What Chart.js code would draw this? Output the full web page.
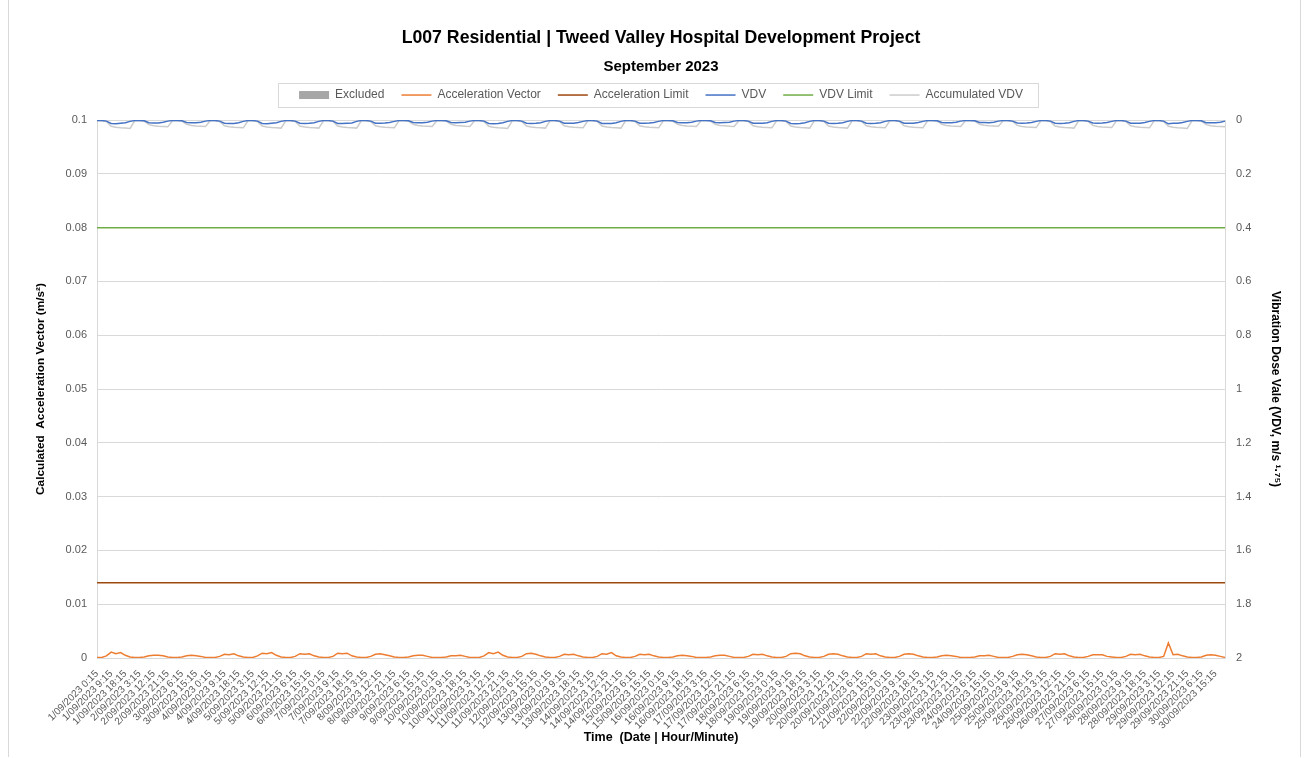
<!DOCTYPE html>
<html>
<head>
<meta charset="utf-8">
<script src="https://cdn.jsdelivr.net/npm/chart.js@4.4.1/dist/chart.umd.min.js"></script>
<style>
    body { margin: 0; background: #fff; }
    #wrap { position: relative; width: 1309px; height: 758px; }
    #frame { position: absolute; left: 8px; top: 0; width: 1291px; height: 757px;
             border-left: 1px solid #d9d9d9; border-right: 1px solid #d9d9d9; pointer-events: none; }
</style>
</head>
<body>
<div id="wrap">
    <canvas id="vibChart" width="1309" height="758"></canvas>
    <div id="frame"></div>
</div>
<script>
// ===== DATA =====
// readings every 3 hours, 1/09/2023 0:15 -> 30/09/2023 21:15
const days = [];
for (let d = 1; d <= 30; d++) days.push(d + '/09/2023');
const times = ['0:15', '3:15', '6:15', '9:15', '12:15', '15:15', '18:15', '21:15'];
const labels = [];
days.forEach(d => times.forEach(t => labels.push(d + ' ' + t)));

// Calculated acceleration vector (m/s2), one row per day
const accelVector = [
    0.0001, 0.0001, 0.0004, 0.0011, 0.0008, 0.0010, 0.0005, 0.0002,
    0.0001, 0.0001, 0.0002, 0.0004, 0.0005, 0.0005, 0.0004, 0.0002,
    0.0001, 0.0001, 0.0002, 0.0004, 0.0005, 0.0004, 0.0003, 0.0001,
    0.0001, 0.0001, 0.0003, 0.0007, 0.0006, 0.0008, 0.0004, 0.0002,
    0.0001, 0.0001, 0.0004, 0.0009, 0.0008, 0.0010, 0.0005, 0.0002,
    0.0001, 0.0001, 0.0003, 0.0008, 0.0007, 0.0008, 0.0004, 0.0002,
    0.0001, 0.0001, 0.0003, 0.0009, 0.0008, 0.0009, 0.0004, 0.0002,
    0.0001, 0.0001, 0.0003, 0.0007, 0.0008, 0.0006, 0.0004, 0.0002,
    0.0001, 0.0001, 0.0002, 0.0004, 0.0005, 0.0005, 0.0003, 0.0001,
    0.0001, 0.0001, 0.0002, 0.0004, 0.0004, 0.0005, 0.0003, 0.0001,
    0.0001, 0.0001, 0.0004, 0.0010, 0.0008, 0.0011, 0.0005, 0.0002,
    0.0001, 0.0001, 0.0003, 0.0008, 0.0009, 0.0007, 0.0004, 0.0002,
    0.0001, 0.0001, 0.0003, 0.0007, 0.0006, 0.0007, 0.0004, 0.0002,
    0.0001, 0.0001, 0.0003, 0.0008, 0.0007, 0.0010, 0.0004, 0.0002,
    0.0001, 0.0001, 0.0003, 0.0007, 0.0006, 0.0007, 0.0004, 0.0002,
    0.0001, 0.0001, 0.0002, 0.0004, 0.0005, 0.0004, 0.0003, 0.0001,
    0.0001, 0.0001, 0.0002, 0.0004, 0.0005, 0.0005, 0.0003, 0.0001,
    0.0001, 0.0001, 0.0003, 0.0007, 0.0006, 0.0007, 0.0004, 0.0002,
    0.0001, 0.0001, 0.0003, 0.0008, 0.0009, 0.0008, 0.0004, 0.0002,
    0.0001, 0.0001, 0.0003, 0.0007, 0.0008, 0.0007, 0.0004, 0.0002,
    0.0001, 0.0001, 0.0003, 0.0008, 0.0007, 0.0008, 0.0004, 0.0002,
    0.0001, 0.0001, 0.0003, 0.0007, 0.0008, 0.0007, 0.0004, 0.0002,
    0.0001, 0.0001, 0.0002, 0.0004, 0.0005, 0.0004, 0.0003, 0.0001,
    0.0001, 0.0001, 0.0002, 0.0004, 0.0004, 0.0005, 0.0003, 0.0001,
    0.0001, 0.0001, 0.0003, 0.0006, 0.0007, 0.0006, 0.0004, 0.0002,
    0.0001, 0.0001, 0.0003, 0.0008, 0.0007, 0.0008, 0.0004, 0.0002,
    0.0001, 0.0001, 0.0003, 0.0006, 0.0006, 0.0006, 0.0003, 0.0002,
    0.0001, 0.0001, 0.0003, 0.0007, 0.0006, 0.0007, 0.0004, 0.0002,
    0.0001, 0.0001, 0.0003, 0.0028, 0.0006, 0.0007, 0.0004, 0.0002,
    0.0001, 0.0001, 0.0002, 0.0005, 0.0006, 0.0005, 0.0003, 0.0001
];

// VDV per period (m/s^1.75), right axis
const vdv = [
    0.002, 0.002, 0.004, 0.013, 0.014, 0.012, 0.010, 0.005,
    0.002, 0.002, 0.003, 0.010, 0.011, 0.011, 0.008, 0.004,
    0.002, 0.002, 0.003, 0.009, 0.010, 0.010, 0.008, 0.004,
    0.002, 0.002, 0.004, 0.012, 0.013, 0.013, 0.010, 0.005,
    0.002, 0.002, 0.004, 0.013, 0.014, 0.012, 0.010, 0.005,
    0.002, 0.002, 0.004, 0.012, 0.013, 0.012, 0.010, 0.005,
    0.002, 0.002, 0.004, 0.013, 0.013, 0.012, 0.011, 0.005,
    0.002, 0.002, 0.004, 0.012, 0.012, 0.011, 0.009, 0.005,
    0.002, 0.002, 0.003, 0.009, 0.010, 0.010, 0.008, 0.004,
    0.002, 0.002, 0.003, 0.009, 0.010, 0.009, 0.008, 0.004,
    0.002, 0.002, 0.004, 0.013, 0.014, 0.013, 0.010, 0.005,
    0.002, 0.002, 0.004, 0.012, 0.013, 0.012, 0.010, 0.005,
    0.002, 0.002, 0.004, 0.012, 0.012, 0.012, 0.009, 0.005,
    0.002, 0.002, 0.004, 0.013, 0.013, 0.013, 0.010, 0.005,
    0.002, 0.002, 0.004, 0.012, 0.012, 0.011, 0.009, 0.005,
    0.002, 0.002, 0.003, 0.009, 0.010, 0.010, 0.008, 0.004,
    0.002, 0.002, 0.003, 0.009, 0.010, 0.009, 0.008, 0.004,
    0.002, 0.002, 0.004, 0.012, 0.012, 0.012, 0.010, 0.005,
    0.002, 0.002, 0.004, 0.013, 0.014, 0.013, 0.010, 0.005,
    0.002, 0.002, 0.004, 0.012, 0.013, 0.012, 0.010, 0.005,
    0.002, 0.002, 0.004, 0.012, 0.013, 0.012, 0.010, 0.005,
    0.002, 0.002, 0.004, 0.012, 0.012, 0.012, 0.009, 0.005,
    0.002, 0.002, 0.003, 0.009, 0.010, 0.010, 0.008, 0.004,
    0.002, 0.002, 0.003, 0.009, 0.009, 0.010, 0.008, 0.004,
    0.002, 0.002, 0.004, 0.011, 0.012, 0.011, 0.009, 0.005,
    0.002, 0.002, 0.004, 0.012, 0.013, 0.012, 0.010, 0.005,
    0.002, 0.002, 0.004, 0.011, 0.012, 0.011, 0.009, 0.005,
    0.002, 0.002, 0.004, 0.012, 0.012, 0.012, 0.009, 0.005,
    0.002, 0.002, 0.004, 0.014, 0.012, 0.012, 0.009, 0.005,
    0.002, 0.002, 0.003, 0.010, 0.010, 0.010, 0.008, 0.004
];

// Accumulated VDV (m/s^1.75), resets every evening
const vdvAccum = [
    0.003, 0.003, 0.005, 0.023, 0.027, 0.029, 0.030, 0.031,
    0.003, 0.003, 0.004, 0.017, 0.021, 0.023, 0.024, 0.025,
    0.003, 0.003, 0.004, 0.016, 0.020, 0.022, 0.023, 0.024,
    0.003, 0.003, 0.005, 0.021, 0.025, 0.027, 0.028, 0.029,
    0.003, 0.003, 0.005, 0.022, 0.026, 0.028, 0.029, 0.030,
    0.003, 0.003, 0.005, 0.022, 0.026, 0.028, 0.029, 0.030,
    0.003, 0.003, 0.005, 0.022, 0.026, 0.028, 0.029, 0.030,
    0.003, 0.003, 0.005, 0.021, 0.025, 0.027, 0.028, 0.029,
    0.003, 0.003, 0.004, 0.016, 0.020, 0.022, 0.023, 0.024,
    0.003, 0.003, 0.004, 0.016, 0.020, 0.021, 0.023, 0.024,
    0.003, 0.003, 0.005, 0.023, 0.027, 0.029, 0.030, 0.031,
    0.003, 0.003, 0.005, 0.022, 0.026, 0.028, 0.029, 0.030,
    0.003, 0.003, 0.005, 0.021, 0.025, 0.027, 0.028, 0.029,
    0.003, 0.003, 0.005, 0.022, 0.026, 0.028, 0.029, 0.030,
    0.003, 0.003, 0.005, 0.021, 0.025, 0.027, 0.028, 0.029,
    0.003, 0.003, 0.004, 0.016, 0.020, 0.022, 0.023, 0.024,
    0.003, 0.003, 0.004, 0.016, 0.020, 0.021, 0.023, 0.024,
    0.003, 0.003, 0.005, 0.021, 0.025, 0.027, 0.028, 0.029,
    0.003, 0.003, 0.005, 0.022, 0.026, 0.028, 0.029, 0.030,
    0.003, 0.003, 0.005, 0.022, 0.026, 0.028, 0.029, 0.030,
    0.003, 0.003, 0.005, 0.021, 0.025, 0.027, 0.028, 0.029,
    0.003, 0.003, 0.005, 0.021, 0.025, 0.027, 0.028, 0.029,
    0.003, 0.003, 0.004, 0.016, 0.020, 0.022, 0.023, 0.024,
    0.003, 0.003, 0.004, 0.016, 0.019, 0.021, 0.022, 0.023,
    0.003, 0.003, 0.005, 0.020, 0.024, 0.026, 0.027, 0.028,
    0.003, 0.003, 0.005, 0.022, 0.026, 0.028, 0.029, 0.030,
    0.003, 0.003, 0.005, 0.020, 0.024, 0.026, 0.027, 0.028,
    0.003, 0.003, 0.005, 0.021, 0.025, 0.027, 0.028, 0.029,
    0.003, 0.003, 0.005, 0.023, 0.027, 0.029, 0.030, 0.031,
    0.003, 0.003, 0.004, 0.017, 0.021, 0.023, 0.024, 0.025
];

const accelLimit = 0.014;   // m/s2, left axis
const vdvLimit = 0.4;       // m/s^1.75, right axis

// ===== HELPERS =====
const GREY_TXT = '#595959';
const GRID = '#d9d9d9';
const FONT = "'Liberation Sans', Arial, sans-serif";

// legend frame + extra gap under the legend
const legendFrame = {
    id: 'legendFrame',
    beforeLayout(chart) {
        const lg = chart.legend;
        if (lg && !lg._patched) {
            const fit = lg.fit;
            lg.fit = function () { fit.call(this); this.height += 9; };
            lg._patched = true;
        }
    },
    afterDraw(chart) {
        const hb = chart.legend.legendHitBoxes;
        if (!hb || !hb.length) return;
        const last = hb[hb.length - 1];
        const cy = hb[0].top + hb[0].height / 2;
        const ctx = chart.ctx;
        ctx.save();
        ctx.strokeStyle = GRID;
        ctx.lineWidth = 1;
        ctx.strokeRect(Math.round(hb[0].left - 21) + 0.5, Math.round(cy - 12) + 0.5,
            Math.round(last.left + last.width + 15 - (hb[0].left - 21)), 24);
        ctx.restore();
    }
};

// ===== CHART =====
new Chart(document.getElementById('vibChart'), {
    type: 'line',
    data: {
        labels: labels,
        datasets: [
            {
                label: 'Excluded',
                data: [],
                backgroundColor: '#a6a6a6',
                borderColor: '#a6a6a6',
                borderWidth: 0,
                pointStyle: 'rect'
            },
            {
                label: 'Acceleration Vector',
                data: accelVector,
                borderColor: '#ed7d31',
                backgroundColor: '#ed7d31',
                borderWidth: 1.5,
                pointStyle: 'line',
                yAxisID: 'y'
            },
            {
                label: 'Acceleration Limit',
                data: labels.map(() => accelLimit),
                borderColor: '#9e480e',
                backgroundColor: '#9e480e',
                borderWidth: 1.5,
                pointStyle: 'line',
                yAxisID: 'y'
            },
            {
                label: 'VDV',
                data: vdv,
                borderColor: '#4472c4',
                backgroundColor: '#4472c4',
                borderWidth: 1.5,
                pointStyle: 'line',
                yAxisID: 'y1'
            },
            {
                label: 'VDV Limit',
                data: labels.map(() => vdvLimit),
                borderColor: '#70ad47',
                backgroundColor: '#70ad47',
                borderWidth: 1.5,
                pointStyle: 'line',
                yAxisID: 'y1'
            },
            {
                label: 'Accumulated VDV',
                data: vdvAccum,
                borderColor: '#cccccc',
                backgroundColor: '#cccccc',
                borderWidth: 1.5,
                pointStyle: 'line',
                yAxisID: 'y1'
            }
        ]
    },
    options: {
        responsive: false,
        animation: false,
        layout: { padding: 0 },
        elements: { point: { radius: 0, hoverRadius: 0 }, line: { tension: 0 } },
        plugins: {
            title: {
                display: true,
                fullSize: false,
                text: 'L007 Residential | Tweed Valley Hospital Development Project',
                color: '#000',
                font: { family: FONT, size: 17.7, weight: 'bold' },
                padding: { top: 27.4, bottom: 6 }
            },
            subtitle: {
                display: true,
                fullSize: false,
                text: 'September 2023',
                color: '#000',
                font: { family: FONT, size: 15, weight: 'bold' },
                padding: { top: 3.4, bottom: -4 }
            },
            legend: {
                position: 'top',
                fullSize: false,
                labels: {
                    usePointStyle: true,
                    pointStyleWidth: 30,
                    boxHeight: 8,
                    padding: 17,
                    color: GREY_TXT,
                    font: { family: FONT, size: 12 }
                }
            },
            tooltip: { enabled: false }
        },
        scales: {
            x: {
                type: 'category',
                offset: false,
                grid: { display: false },
                border: { display: true, color: GRID },
                ticks: {
                    autoSkip: false,
                    minRotation: 45,
                    maxRotation: 45,
                    padding: 2,
                    color: GREY_TXT,
                    font: { family: FONT, size: 10 },
                    callback: function (v, i) { return i % 3 === 0 ? this.getLabelForValue(v) : ''; }
                },
                title: {
                    display: true,
                    text: 'Time  (Date | Hour/Minute)',
                    color: '#000',
                    font: { family: FONT, size: 12.5, weight: 'bold' },
                    padding: { top: 0, bottom: 13 }
                },
                afterFit: s => { s.height = 100; }
            },
            y: {
                position: 'left',
                min: 0,
                max: 0.1,
                grid: { color: GRID, drawTicks: false },
                border: { display: true, color: GRID },
                ticks: {
                    stepSize: 0.01,
                    padding: 10,
                    color: GREY_TXT,
                    font: { family: FONT, size: 11 },
                    callback: v => String(Math.round(v * 100) / 100)
                },
                title: {
                    display: true,
                    text: 'Calculated  Acceleration Vector (m/s²)',
                    color: '#000',
                    font: { family: FONT, size: 11.8, weight: 'bold' },
                    padding: { top: 34, bottom: 0 }
                },
                afterFit: s => { s.width = 97; }
            },
            y1: {
                position: 'right',
                min: 0,
                max: 2,
                reverse: true,
                grid: { drawOnChartArea: false, drawTicks: false },
                border: { display: true, color: GRID },
                ticks: {
                    stepSize: 0.2,
                    padding: 11,
                    color: GREY_TXT,
                    font: { family: FONT, size: 11 },
                    callback: v => String(Math.round(v * 10) / 10)
                },
                title: {
                    display: true,
                    text: 'Vibration Dose Vale (VDV, m/s ¹·⁷⁵)',
                    color: '#000',
                    font: { family: FONT, size: 12, weight: 'bold' },
                    padding: { top: 26, bottom: 0 }
                },
                afterFit: s => { s.width = 84; }
            }
        }
    },
    plugins: [legendFrame]
});
</script>
</body>
</html>
